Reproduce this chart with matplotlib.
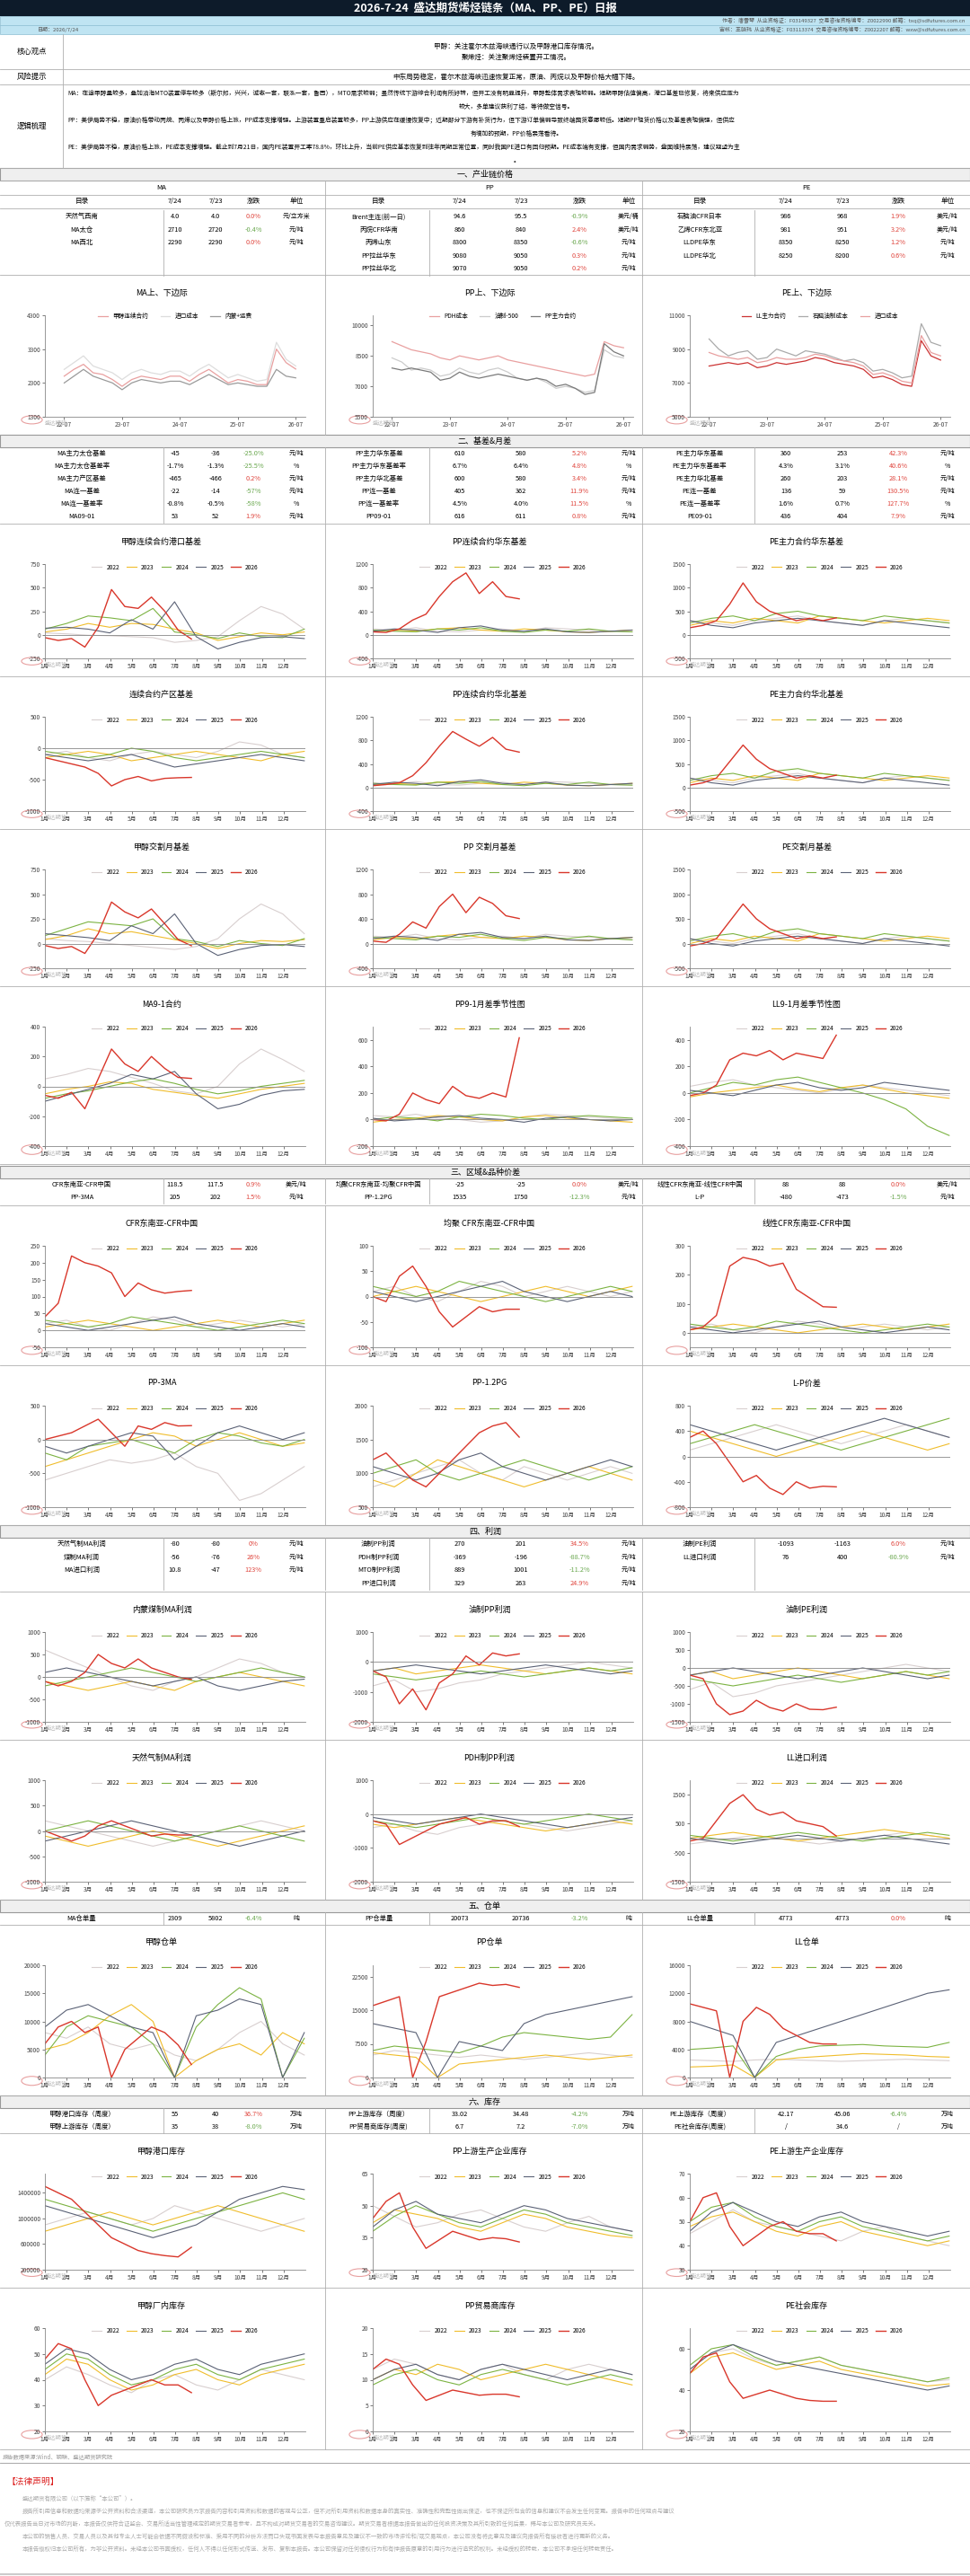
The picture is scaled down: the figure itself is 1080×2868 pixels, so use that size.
import numpy as np
import matplotlib
matplotlib.use("Agg")
import matplotlib.pyplot as plt
from matplotlib.patches import Rectangle, Circle

plt.rcParams["font.family"] = ["Noto Sans CJK SC", "DejaVu Sans"]
plt.rcParams["axes.unicode_minus"] = False

# ---------------- data ----------------
YEARS = ["2022", "2023", "2024", "2025", "2026"]
YEAR_COLORS = ["#d8cfcf", "#f0bd2c", "#7cb342", "#5b6276", "#d9372b"]
MONTHS = [f"{m}月" for m in range(1, 13)]

TITLE = "2026-7-24  盛达期货烯烃链条（MA、PP、PE）日报"
AUTHOR = "作者：唐雪琴  从业资格证：F03149327  交易咨询资格编号：Z0022990 邮箱：txq@sdfutures.com.cn"
REVIEWER = "审核：王晓玮  从业资格证：F03113374  交易咨询资格编号：Z0022207 邮箱：wxw@sdfutures.com.cn"
DATE = "日期：2026/7/24"
CORE_VIEW = ["甲醇：关注霍尔木兹海峡通行以及甲醇港口库存情况。", "聚烯烃：关注聚烯烃装置开工情况。"]
RISK = "中东局势稳定，霍尔木兹海峡迅速恢复正常，原油、丙烷以及甲醇价格大幅下降。"
LOGIC = [
    "MA：在途甲醇量较多，叠加沿海MTO装置停车较多（斯尔邦，兴兴，诚志一套，联泓一套，鲁西），MTO需求较弱；虽然传统下游综合利润有所好转，但开工没有明显提升，甲醇整体需求表现较弱。短期甲醇估值偏高，港口基差已修复，将来供应压力",
    "较大，多单建议获利了结，等待做空信号。",
    "PP：美伊局势不稳，原油价格带动丙烷、丙烯以及甲醇价格上涨，PP成本支撑增强。上游装置重启装置较多，PP上游供应在缓慢恢复中；近期部分下游有补货行为，但下游订单偏弱导致终端囤货意愿较低。短期PP现货价格以及基差表现偏强，但供应",
    "有增加的预期，PP价格震荡看待。",
    "PE：美伊局势不稳，原油价格上涨，PE成本支撑增强。截止到7月21日，国内PE装置开工率78.8%，环比上升，当前PE供应基本恢复到往年同期正常位置，同时我国PE进口有回归预期。PE成本端有支撑，但国内需求弱势，盘面维持震荡，建议观望为主",
    "。",
]

# tables: (name, 7/24, 7/23, change, unit)
T1_MA = [("天然气西南", "4.0", "4.0", "0.0%", "元/立方米"), ("MA太仓", "2710", "2720", "-0.4%", "元/吨"),
         ("MA西北", "2290", "2290", "0.0%", "元/吨")]
T1_PP = [("Brent主连(前一日)", "94.6", "95.5", "-0.9%", "美元/桶"), ("丙烷CFR华南", "860", "840", "2.4%", "美元/吨"),
         ("丙烯山东", "8300", "8350", "-0.6%", "元/吨"), ("PP拉丝华东", "9080", "9050", "0.3%", "元/吨"),
         ("PP拉丝华北", "9070", "9050", "0.2%", "元/吨")]
T1_PE = [("石脑油CFR日本", "986", "968", "1.9%", "美元/吨"), ("乙烯CFR东北亚", "981", "951", "3.2%", "美元/吨"),
         ("LLDPE华东", "8350", "8250", "1.2%", "元/吨"), ("LLDPE华北", "8250", "8200", "0.6%", "元/吨")]
T2_MA = [("MA主力太仓基差", "-45", "-36", "-25.0%", "元/吨"), ("MA主力太仓基差率", "-1.7%", "-1.3%", "-25.5%", "%"),
         ("MA主力产区基差", "-465", "-466", "0.2%", "元/吨"), ("MA连一基差", "-22", "-14", "-57%", "元/吨"),
         ("MA连一基差率", "-0.8%", "-0.5%", "-58%", "%"), ("MA09-01", "53", "52", "1.9%", "元/吨")]
T2_PP = [("PP主力华东基差", "610", "580", "5.2%", "元/吨"), ("PP主力华东基差率", "6.7%", "6.4%", "4.8%", "%"),
         ("PP主力华北基差", "600", "580", "3.4%", "元/吨"), ("PP连一基差", "405", "362", "11.9%", "元/吨"),
         ("PP连一基差率", "4.5%", "4.0%", "11.5%", "%"), ("PP09-01", "616", "611", "0.8%", "元/吨")]
T2_PE = [("PE主力华东基差", "360", "253", "42.3%", "元/吨"), ("PE主力华东基差率", "4.3%", "3.1%", "40.6%", "%"),
         ("PE主力华北基差", "260", "203", "28.1%", "元/吨"), ("PE连一基差", "136", "59", "130.5%", "元/吨"),
         ("PE连一基差率", "1.6%", "0.7%", "127.7%", "%"), ("PE09-01", "436", "404", "7.9%", "元/吨")]
T3_MA = [("CFR东南亚-CFR中国", "118.5", "117.5", "0.9%", "美元/吨"), ("PP-3MA", "205", "202", "1.5%", "元/吨")]
T3_PP = [("均聚CFR东南亚-均聚CFR中国", "-25", "-25", "0.0%", "美元/吨"), ("PP-1.2PG", "1535", "1750", "-12.3%", "元/吨")]
T3_PE = [("线性CFR东南亚-线性CFR中国", "88", "88", "0.0%", "美元/吨"), ("L-P", "-480", "-473", "-1.5%", "元/吨")]
T4_MA = [("天然气制MA利润", "-80", "-80", "0%", "元/吨"), ("煤制MA利润", "-56", "-76", "26%", "元/吨"),
         ("MA进口利润", "10.8", "-47", "123%", "元/吨")]
T4_PP = [("油制PP利润", "270", "201", "34.5%", "元/吨"), ("PDH制PP利润", "-369", "-196", "-88.7%", "元/吨"),
         ("MTO制PP利润", "889", "1001", "-11.2%", "元/吨"), ("PP进口利润", "329", "263", "24.9%", "元/吨")]
T4_PE = [("油制PE利润", "-1093", "-1163", "6.0%", "元/吨"), ("LL进口利润", "76", "400", "-80.9%", "元/吨")]
T5_MA = [("MA仓单量", "2309", "5802", "-6.4%", "吨")]
T5_PP = [("PP仓单量", "20073", "20736", "-3.2%", "吨")]
T5_PE = [("LL仓单量", "4773", "4773", "0.0%", "吨")]
T6_MA = [("甲醇港口库存（周度）", "55", "40", "36.7%", "万吨"), ("甲醇上游库存（周度）", "35", "38", "-8.0%", "万吨")]
T6_PP = [("PP上游库存（周度）", "33.02", "34.48", "-4.2%", "万吨"), ("PP贸易商库存(周度)", "6.7", "7.2", "-7.0%", "万吨")]
T6_PE = [("PE上游库存（周度）", "42.17", "45.06", "-6.4%", "万吨"), ("PE社会库存(周度)", "/", "34.6", "/", "万吨")]

# margin time series, bimonthly 22-07 .. 26-07
TS_TICKS = ["22-07", "23-07", "24-07", "25-07", "26-07"]
MA_EDGE = {
    "甲醇连续合约": [2500, 2700, 2850, 2600, 2550, 2400, 2200, 2400, 2500, 2450, 2400, 2500, 2500,
                 2350, 2550, 2700, 2500, 2300, 2400, 2350, 2250, 2250, 3300, 2900, 2710],
    "进口成本": [2700, 2900, 3100, 2800, 2700, 2600, 2400, 2600, 2700, 2600, 2550, 2650, 2650,
             2500, 2700, 2850, 2650, 2450, 2550, 2450, 2350, 2400, 3500, 3000, 2800],
    "内蒙+运费": [2300, 2500, 2700, 2500, 2400, 2300, 2100, 2300, 2400, 2350, 2300, 2350, 2350,
              2250, 2400, 2550, 2400, 2250, 2300, 2250, 2200, 2200, 2700, 2500, 2450],
}
PP_EDGE = {
    "PDH成本": [9200, 9000, 8800, 8700, 8600, 8400, 8300, 8500, 8400, 8300, 8400, 8500, 8300,
              8200, 8100, 8000, 7900, 7800, 7700, 7600, 7500, 7600, 9200, 9000, 8900],
    "油制-500": [8400, 8200, 7800, 7900, 7800, 7500, 7600, 7900, 7700, 7600, 7800, 7900, 7700,
               7400, 7300, 7400, 7200, 6900, 7000, 6900, 6700, 6800, 8800, 8500, 8400],
    "PP主力合约": [7900, 7800, 7900, 7800, 7700, 7300, 7400, 7700, 7500, 7400, 7500, 7600, 7500,
               7400, 7300, 7400, 7300, 7000, 7100, 6900, 6600, 6700, 9100, 8700, 8500],
}
PE_EDGE = {
    "LL主力合约": [8000, 8100, 8200, 8100, 8200, 7900, 8000, 8200, 8100, 8200, 8300, 8500, 8400,
               8200, 8100, 8000, 7800, 7300, 7400, 7200, 6900, 6800, 9500, 8600, 8350],
    "石脑油制成本": [9600, 9000, 8600, 8800, 8900, 8400, 8500, 9000, 8800, 8600, 8900, 8800, 8700,
                8500, 8300, 8400, 8200, 7700, 7800, 7600, 7300, 7400, 10500, 9400, 9200],
    "进口成本": [8800, 8600, 8500, 8400, 8500, 8200, 8300, 8500, 8400, 8400, 8500, 8700, 8600,
             8400, 8300, 8200, 8000, 7500, 7600, 7400, 7100, 7000, 9800, 8800, 8600],
}

# seasonal series: 2022-2025 (Jan..Dec, 13 pts), 2026 (Jan..late Jul, 12 pts)
MA_PORT_BASIS = [[20, 10, -5, -10, -20, -30, -80, -60, -20, 150, 300, 220, 60],
                 [30, 60, 120, 80, 120, 110, 60, 20, -60, -20, 20, 0, 30],
                 [60, 120, 200, 180, 150, 280, 30, 0, -40, 20, -20, -30, 60],
                 [70, 80, 60, 20, 160, 60, 350, -20, -150, -80, -30, -20, -40],
                 [-30, -60, -40, -130, 80, 480, 300, 280, 400, 250, 50, -45]]
PP_EAST_BASIS = [[100, 80, 120, 60, 50, 80, 100, 60, 120, 100, 80, 60, 50],
                 [50, 80, 60, 100, 120, 80, 60, 100, 80, 50, 40, 60, 80],
                 [80, 60, 50, 100, 80, 120, 60, 40, 80, 60, 100, 60, 50],
                 [60, 100, 80, 40, 120, 150, 80, 60, 100, 50, 40, 60, 80],
                 [50, 40, 100, 250, 350, 650, 900, 1050, 700, 900, 650, 610]]
PE_EAST_BASIS = [[300, 250, 200, 300, 350, 400, 300, 250, 200, 300, 350, 300, 250],
                 [200, 300, 250, 350, 300, 250, 400, 350, 300, 250, 300, 350, 300],
                 [250, 350, 400, 300, 450, 500, 400, 350, 300, 400, 350, 300, 250],
                 [300, 200, 150, 250, 300, 350, 300, 250, 200, 300, 250, 200, 150],
                 [150, 200, 300, 650, 1100, 700, 500, 400, 300, 350, 300, 360]]
MA_INLAND_BASIS = [[-100, -50, -150, -200, -100, -50, -100, -150, -50, 100, 50, -100, -150],
                   [-150, -100, -50, -100, -200, -150, -100, -50, -100, -150, -200, -100, -50],
                   [-50, -100, -150, -100, 0, -50, -150, -200, -150, -100, -50, -100, -150],
                   [-100, -150, -200, -150, -100, -200, -300, -250, -200, -150, -100, -150, -200],
                   [-150, -200, -250, -300, -400, -600, -500, -450, -520, -480, -470, -465]]
PP_NORTH_BASIS = [[80, 60, 100, 50, 40, 70, 90, 50, 100, 90, 70, 50, 40],
                  [40, 70, 50, 90, 100, 70, 50, 90, 70, 40, 30, 50, 70],
                  [70, 50, 40, 90, 70, 100, 50, 30, 70, 50, 90, 50, 40],
                  [50, 90, 70, 30, 100, 130, 70, 50, 90, 40, 30, 50, 70],
                  [30, 50, 80, 200, 420, 700, 950, 820, 700, 850, 650, 600]]
PE_NORTH_BASIS = [[200, 150, 100, 200, 250, 300, 200, 150, 100, 200, 250, 200, 150],
                  [100, 200, 150, 250, 200, 150, 300, 250, 200, 150, 200, 250, 200],
                  [150, 250, 300, 200, 350, 400, 300, 250, 200, 300, 250, 200, 150],
                  [200, 100, 50, 150, 200, 250, 200, 150, 100, 200, 150, 100, 50],
                  [50, 100, 200, 550, 900, 600, 400, 300, 200, 250, 200, 260]]
MA_DELIV_BASIS = [[50, 30, 20, 0, -20, -40, -60, -30, 50, 250, 400, 300, 100],
                  [40, 80, 150, 100, 120, 80, 40, 0, -50, 0, 30, 20, 40],
                  [80, 150, 220, 200, 180, 250, 50, 20, -30, 30, 0, -20, 50],
                  [100, 80, 60, 30, 180, 100, 300, 0, -120, -60, -20, -10, -30],
                  [-20, -50, -30, -100, 100, 420, 320, 260, 350, 200, 40, -22]]
PP_DELIV_BASIS = [[120, 100, 150, 80, 60, 100, 120, 80, 150, 120, 100, 80, 60],
                  [60, 100, 80, 120, 150, 100, 80, 120, 100, 60, 50, 80, 100],
                  [100, 80, 60, 120, 100, 150, 80, 50, 100, 80, 120, 80, 60],
                  [80, 120, 100, 50, 150, 180, 100, 80, 120, 60, 50, 80, 100],
                  [40, 20, 150, 350, 250, 600, 800, 500, 750, 650, 450, 405]]
PE_DELIV_BASIS = [[100, 50, 0, 100, 150, 200, 100, 50, 0, 100, 150, 100, 50],
                  [0, 100, 50, 150, 100, 50, 200, 150, 100, 50, 100, 150, 100],
                  [50, 150, 200, 100, 250, 300, 200, 150, 100, 200, 150, 100, 50],
                  [100, 0, -50, 50, 100, 150, 100, 50, 0, 100, 50, 0, -50],
                  [-50, 0, 100, 450, 800, 500, 300, 200, 100, 150, 100, 136]]
MA_SPREAD_91 = [[50, 80, 120, 100, 60, 20, -30, -50, 0, 150, 250, 180, 100],
                [-50, -20, 0, 30, 20, -20, -40, -60, -80, -50, -20, 0, 20],
                [-80, -50, -30, 0, 30, 50, 20, -20, -50, -30, 0, 20, 40],
                [-100, -60, -20, 20, 80, 50, 100, -50, -150, -120, -60, -30, -20],
                [-60, -80, -40, -150, 50, 250, 150, 100, 200, 120, 60, 53]]
PP_SPREAD_91 = [[30, 20, 40, 10, 0, -20, -10, 20, 40, 30, 20, 10, 0],
                [-20, 0, 10, 30, 20, 0, -10, 20, 30, 10, 0, -10, -20],
                [0, 20, 10, -10, 20, 40, 30, 10, 0, 20, 30, 20, 10],
                [10, -10, 0, 20, 30, 10, 0, -20, 10, 20, 0, -10, 0],
                [0, -10, 40, 200, 150, 120, 250, 180, 160, 200, 170, 616]]
LL_SPREAD_91 = [[50, 80, 100, 60, 40, 20, 0, 30, 60, 40, 20, 0, -20],
                [-30, 0, 20, 40, 60, 30, 10, 40, 60, 30, 0, -20, -40],
                [0, 40, 80, 60, 100, 120, 80, 40, 0, -50, -120, -250, -320],
                [20, 0, -20, 20, 60, 80, 40, 20, 40, 80, 60, 40, 20],
                [-20, 0, 60, 250, 300, 280, 320, 250, 300, 280, 260, 436]]
MA_CFR_SPREAD = [[20, 30, 10, 0, 20, 40, 30, 10, 20, 30, 20, 10, 20],
                 [10, 20, 30, 20, 10, 0, 10, 20, 30, 20, 10, 20, 30],
                 [30, 20, 10, 20, 40, 30, 20, 10, 0, 10, 20, 30, 20],
                 [20, 10, 0, 10, 20, 30, 40, 20, 10, 0, 10, 20, 10],
                 [40, 80, 220, 200, 190, 170, 100, 140, 120, 110, 115, 118]]
PP_CFR_SPREAD = [[10, 20, 0, -10, 10, 30, 20, 0, 10, 20, 10, 0, 10],
                 [0, 10, 20, 10, 0, -10, 0, 10, 20, 10, 0, 10, 20],
                 [20, 10, 0, 10, 30, 20, 10, 0, -10, 0, 10, 20, 10],
                 [10, 0, -10, 0, 10, 20, 30, 10, 0, -10, 0, 10, 0],
                 [0, -10, 40, 60, 20, -30, -60, -40, -20, -30, -25, -25]]
PE_CFR_SPREAD = [[20, 30, 10, 0, 20, 40, 30, 10, 20, 30, 20, 10, 20],
                 [10, 20, 30, 20, 10, 0, 10, 20, 30, 20, 10, 20, 30],
                 [30, 20, 10, 20, 40, 30, 20, 10, 0, 10, 20, 30, 20],
                 [20, 10, 0, 10, 20, 30, 40, 20, 10, 0, 10, 20, 10],
                 [10, 20, 60, 230, 260, 250, 230, 240, 150, 120, 90, 88]]
PP_3MA = [[-600, -500, -400, -300, -350, -300, -200, -400, -500, -900, -800, -600, -400],
          [-400, -300, -200, -100, 0, 100, 50, -100, 0, 100, 0, -100, -50],
          [-200, -300, -100, -50, 0, -100, -200, 0, 100, 50, -50, -100, 0],
          [-100, -200, -100, 0, 100, 50, -300, -100, 100, 200, 100, 0, 100],
          [0, 50, 100, 200, 300, 100, -100, 200, 150, 250, 200, 205]]
PP_12PG = [[800, 900, 1000, 1100, 1200, 1000, 900, 1100, 1000, 900, 1000, 1100, 1000],
           [900, 800, 1000, 1200, 1100, 1000, 900, 800, 900, 1000, 1100, 1000, 900],
           [1000, 1100, 1200, 1000, 900, 1000, 1100, 1200, 1100, 1000, 900, 1000, 1100],
           [1100, 1000, 900, 1000, 1200, 1300, 1100, 1000, 900, 1000, 1100, 1200, 1100],
           [1200, 1300, 1100, 900, 800, 1000, 1200, 1400, 1600, 1700, 1750, 1535]]
L_P_SPREAD = [[100, 200, 300, 400, 500, 400, 300, 200, 300, 400, 500, 400, 300],
              [400, 300, 200, 100, 0, 100, 200, 300, 400, 300, 200, 100, 200],
              [200, 300, 400, 500, 400, 300, 200, 100, 200, 300, 400, 500, 600],
              [500, 400, 300, 200, 100, 200, 300, 400, 500, 600, 500, 400, 300],
              [300, 400, 200, -100, -400, -300, -500, -600, -400, -500, -470, -480]]
MA_COAL_PROFIT = [[600, 400, 200, 0, -200, -300, -100, 0, 200, 400, 300, 100, 0],
                  [-100, -200, -300, -200, -100, -200, -300, -100, 0, 100, 0, -100, -200],
                  [-200, -100, 0, 100, 200, 100, 0, -100, 0, 100, 200, 100, 0],
                  [100, 200, 100, 0, -100, -200, -100, 0, -200, -300, -200, -100, -50],
                  [-100, -200, -100, 100, 500, 300, 200, 400, 200, 100, 0, -56]]
PP_OIL_PROFIT = [[-800, -600, -1000, -900, -700, -600, -400, -300, -200, -100, 0, -100, -200],
                 [-300, -200, -400, -300, -200, -100, -200, -300, -400, -300, -200, -300, -400],
                 [-400, -500, -600, -500, -400, -300, -400, -500, -400, -300, -200, -300, -200],
                 [-300, -200, -100, -200, -300, -400, -300, -200, -100, -200, -300, -400, -300],
                 [-300, -500, -1400, -900, -1600, -700, -400, 200, -100, 300, 201, 270]]
PE_OIL_PROFIT = [[-600, -400, -800, -700, -500, -400, -300, -200, -100, 0, 100, 0, -100],
                 [-200, -100, -300, -200, -100, 0, -100, -200, -300, -200, -100, -200, -300],
                 [-300, -400, -500, -400, -300, -200, -300, -400, -300, -200, -100, -200, -100],
                 [-200, -100, 0, -100, -200, -300, -200, -100, 0, -100, -200, -300, -200],
                 [-200, -300, -1000, -1300, -1200, -900, -1100, -1200, -1000, -1150, -1163, -1093]]
MA_GAS_PROFIT = [[200, 100, 0, -100, -200, -300, -200, -100, 0, 100, 200, 100, 0],
                 [-100, -200, -300, -200, -100, 0, -100, -200, -300, -200, -100, 0, 100],
                 [0, 100, 200, 100, 0, -100, -200, -100, 0, 100, 0, -100, -200],
                 [-200, -100, 0, 100, 200, 100, 0, -100, -200, -300, -200, -100, 0],
                 [0, -100, -200, -100, 100, 200, 100, 0, -100, -60, -80, -80]]
PP_PDH_PROFIT = [[-400, -300, -500, -600, -400, -300, -200, -300, -400, -500, -400, -300, -200],
                 [-300, -400, -300, -200, -100, -200, -300, -400, -500, -400, -300, -200, -300],
                 [-200, -300, -400, -300, -200, -100, -200, -300, -200, -100, 0, -100, -200],
                 [-100, -200, -300, -200, -100, 0, -100, -200, -300, -400, -300, -200, -100],
                 [-200, -300, -900, -700, -500, -300, -200, -100, -300, -200, -196, -369]]
LL_IMPORT_PROFIT = [[-200, -100, 0, 100, 0, -100, -200, -100, 0, 100, 200, 100, 0],
                    [0, 100, 200, 100, 0, -100, 0, 100, 200, 300, 200, 100, 0],
                    [100, 0, -100, 0, 100, 200, 100, 0, -100, 0, 100, 200, 100],
                    [0, -100, -200, -100, 0, 100, 0, -100, 0, 100, 0, -100, -200],
                    [-100, 0, 600, 1200, 1500, 1000, 800, 900, 600, 500, 400, 76]]
MA_WARRANT = [[8000, 7000, 9000, 6000, 5000, 6000, 4000, 3000, 5000, 8000, 10000, 6000, 4000],
              [5000, 6000, 8000, 11000, 13000, 10000, 0, 3000, 5000, 6000, 4000, 8000, 6000],
              [4000, 9000, 11000, 10000, 9000, 6000, 0, 9000, 13000, 16000, 14000, 0, 7000],
              [9000, 12000, 13000, 11000, 9000, 8000, 0, 11000, 12000, 14000, 13000, 0, 8000],
              [6000, 9000, 10000, 8000, 9000, 0, 5000, 7000, 9000, 8000, 5802, 2309]]
PP_WARRANT = [[5000, 6000, 5500, 5000, 4500, 5000, 4500, 4000, 4500, 5000, 5500, 5000, 4500],
              [5500, 5000, 4500, 0, 3000, 3500, 4000, 4500, 5000, 4500, 4000, 4500, 5000],
              [6000, 7000, 6500, 6000, 5500, 7000, 9000, 10000, 9500, 9000, 8500, 9000, 14000],
              [12000, 11000, 10000, 0, 8000, 7000, 6000, 12000, 14000, 15000, 16000, 17000, 18000],
              [16000, 17000, 18000, 0, 8000, 18000, 19000, 20000, 21000, 20500, 20736, 20073]]
LL_WARRANT = [[2500, 2400, 2300, 2500, 2600, 2500, 2400, 2300, 2400, 2500, 2600, 2500, 2400],
              [1500, 1600, 1800, 0, 2500, 2800, 3000, 3200, 3400, 3300, 3200, 3000, 2900],
              [4000, 4200, 4500, 0, 3000, 4000, 4500, 4600, 4700, 4500, 4400, 4300, 5000],
              [8000, 7000, 6000, 0, 5000, 6000, 7000, 8000, 9000, 10000, 11000, 12000, 12500],
              [10500, 10000, 9500, 0, 8000, 10000, 9000, 7000, 6000, 5000, 4773, 4773]]
MA_PORT_STOCK = [[900000, 1000000, 1100000, 1000000, 900000, 1000000, 1200000, 1100000, 1000000, 900000, 800000, 900000, 1000000],
                 [800000, 900000, 1000000, 1100000, 1000000, 900000, 1000000, 1100000, 1200000, 1100000, 1000000, 900000, 800000],
                 [1300000, 1200000, 1100000, 1000000, 900000, 800000, 900000, 1000000, 1100000, 1200000, 1300000, 1400000, 1300000],
                 [1200000, 1100000, 1000000, 900000, 800000, 700000, 800000, 900000, 1100000, 1300000, 1400000, 1500000, 1450000],
                 [1500000, 1400000, 1300000, 1100000, 900000, 700000, 600000, 500000, 450000, 420000, 400000, 550000]]
PP_UP_STOCK = [[50, 45, 40, 42, 46, 48, 44, 40, 38, 42, 45, 40, 38],
               [42, 48, 46, 44, 40, 38, 42, 46, 44, 40, 38, 36, 35],
               [38, 45, 50, 46, 42, 40, 44, 48, 46, 42, 40, 38, 36],
               [40, 48, 52, 46, 44, 42, 46, 50, 48, 44, 42, 40, 38],
               [44, 52, 56, 40, 30, 34, 38, 36, 34, 35, 34.5, 33]]
PE_UP_STOCK = [[45, 50, 55, 50, 48, 46, 44, 42, 46, 48, 44, 42, 40],
               [48, 52, 54, 50, 46, 44, 48, 50, 46, 44, 42, 40, 42],
               [50, 56, 58, 52, 48, 46, 50, 52, 48, 46, 44, 42, 44],
               [46, 54, 58, 54, 50, 48, 52, 54, 50, 48, 46, 44, 46],
               [50, 60, 62, 48, 40, 44, 48, 50, 46, 45, 45, 42]]
MA_PLANT_STOCK = [[40, 45, 42, 38, 35, 40, 42, 38, 36, 40, 44, 42, 40],
                  [42, 48, 46, 40, 36, 38, 42, 44, 40, 38, 42, 44, 46],
                  [44, 50, 48, 42, 38, 40, 44, 46, 42, 40, 44, 46, 48],
                  [46, 52, 50, 44, 40, 42, 46, 48, 44, 42, 46, 48, 50],
                  [48, 54, 52, 40, 30, 34, 36, 38, 40, 38, 38, 35]]
PP_TRADER_STOCK = [[12, 14, 13, 11, 10, 12, 13, 11, 10, 12, 13, 12, 11],
                   [10, 12, 11, 13, 12, 10, 11, 12, 13, 12, 11, 10, 9],
                   [9, 11, 12, 10, 9, 11, 12, 11, 10, 9, 10, 11, 10],
                   [10, 12, 13, 11, 10, 12, 13, 12, 11, 10, 11, 12, 11],
                   [12, 14, 13, 9, 6, 7, 8, 7.5, 7, 7.2, 7.2, 6.7]]
PE_SOCIAL_STOCK = [[50, 58, 60, 55, 52, 54, 56, 52, 50, 48, 46, 44, 45],
                   [48, 56, 58, 54, 50, 52, 54, 50, 48, 46, 44, 42, 43],
                   [52, 60, 62, 56, 52, 54, 56, 52, 50, 48, 46, 44, 46],
                   [50, 58, 62, 58, 54, 52, 50, 48, 46, 44, 42, 40, 42],
                   [48, 56, 58, 44, 36, 38, 40, 38, 36, 35, 34.6, 34.6]]

LEGAL = [
    "盛达期货有限公司（以下简称“本公司”）。",
    "报告所引用信息和数据均来源于公开资料和合法渠道，本公司研究员力求报告内容和引用资料和数据的客观与公正，但不对所引用资料和数据本身的真实性、准确性和完整性做出保证，也不保证所包含的信息和建议不会发生任何变更。报告中的任何观点与建议",
    "仅代表报告当日对市场的判断，本报告仅供符合证监会、交易所适当性管理规定的期货交易者参考，且不构成对期货交易者的交易咨询建议。期货交易者根据本报告做出的任何投资决策及其所引致的任何后果，概与本公司及研究员无关。",
    "本公司的销售人员、交易人员以及其他专业人士可能会依据不同假设和标准、采用不同的分析方法而口头或书面发表与本报告意见及建议不一致的市场评论和/或交易观点，本公司没有将此意见及建议向报告所有接收者进行更新的义务。",
    "本报告版权归本公司所有，为非公开资料。未经本公司书面授权，任何人不得以任何形式传送、发布、复制本报告。本公司保留对任何侵权行为和有悖报告原意的引用行为进行追究的权利。未经授权的转载，本公司不承担任何转载责任。",
]

# ---------------- drawing ----------------
W, H = 1080, 2868
fig = plt.figure(figsize=(W / 100, H / 100), dpi=100)
bg = fig.add_axes([0, 0, 1, 1])
bg.set_xlim(0, W)
bg.set_ylim(H, 0)
bg.axis("off")

GRID = "#b0b0b0"
RED, GREEN = "#e0473f", "#6aa84f"


def hline(y, x0=0, x1=W, c=GRID, lw=0.6):
    bg.plot([x0, x1], [y, y], color=c, lw=lw)


def vline(x, y0, y1, c=GRID, lw=0.6):
    bg.plot([x, x], [y0, y1], color=c, lw=lw)


def section(y, text):
    bg.add_patch(Rectangle((0, y), W, 14, fc="#efefef", ec="#999999", lw=0.8))
    bg.text(W / 2, y + 7, text, ha="center", va="center", fontsize=6.5)


def table(y0, groups, row_h=14.5, header=False):
    cols = [(0, 182, 195, 240, 282, 330), (365, 478, 512, 580, 645, 700), (718, 840, 875, 938, 1000, 1055)]
    nrows = max(len(g) for g in groups)
    y = y0
    if header:
        for (x0, xn, a, b, c, d), lab in zip(cols, ["MA", "PP", "PE"]):
            bg.text(x0 + 180, y + 7, lab, ha="center", va="center", fontsize=5.5)
        hline(y + 15)
        y += 15
        for (x0, xn, a, b, c, d) in cols:
            bg.text((x0 + xn) / 2, y + 7, "目录", ha="center", va="center", fontsize=5.5)
            for xx, s in zip((a, b, c, d), ("7/24", "7/23", "涨跌", "单位")):
                bg.text(xx, y + 7, s, ha="center", va="center", fontsize=5.5)
        hline(y + 15)
        y += 17
    for g, (x0, xn, a, b, c, d) in zip(groups, cols):
        for i, (name, v1, v2, ch, unit) in enumerate(g):
            yy = y + row_h * i + row_h / 2
            bg.text((x0 + xn) / 2, yy, name, ha="center", va="center", fontsize=5.3)
            bg.text(a, yy, v1, ha="center", va="center", fontsize=5.3)
            bg.text(b, yy, v2, ha="center", va="center", fontsize=5.3)
            col = GREEN if ch.startswith("-") else (RED if ch != "/" else "#333")
            bg.text(c, yy, ch, ha="center", va="center", fontsize=5.3, color=col)
            bg.text(d, yy, unit, ha="center", va="center", fontsize=5.0)
        vline(xn, y0 + (32 if header else 0), y + row_h * nrows)
    for x in (365, 718):
        vline(x - 3, y0, y + row_h * nrows)
    return y + row_h * nrows


def logo(ax):
    ax.text(0.0, -0.02, "盛达期货", transform=ax.transAxes, fontsize=4.5, color="#bbbbbb",
            ha="left", va="top")
    ax.add_patch(Circle((-0.05, -0.03), 0.04, transform=ax.transAxes, fill=False,
                        ec="#e8a0a0", lw=0.8, clip_on=False))


def panel_axes(x0, y0, h, title):
    bg.text(x0 + 180, y0 + 20, title, ha="center", va="center", fontsize=6.5)
    left, right = x0 + 50, x0 + 340
    top, bottom = y0 + 45, y0 + h - 20
    ax = fig.add_axes([left / W, 1 - bottom / H, (right - left) / W, (bottom - top) / H])
    for s in ("top", "right"):
        ax.spines[s].set_visible(False)
    ax.spines["left"].set_color("#888")
    ax.spines["bottom"].set_color("#888")
    ax.spines["left"].set_linewidth(0.6)
    ax.spines["bottom"].set_linewidth(0.6)
    ax.tick_params(labelsize=4.8, length=2, width=0.5, colors="#444", pad=1.5)
    ax.ticklabel_format(axis="y", style="plain", useOffset=False)
    return ax


def seasonal(x0, y0, h, title, data, ylim, yticks):
    ax = panel_axes(x0, y0, h, title)
    for vals, yr, col in zip(data, YEARS, YEAR_COLORS):
        end = 7.75 if yr == "2026" else 12.95
        xs = np.linspace(1, end, len(vals))
        ax.plot(xs, vals, color=col, lw=1.0 if yr == "2026" else 0.8, label=yr)
    ax.set_xlim(1, 13)
    ax.set_ylim(*ylim)
    ax.set_yticks(yticks)
    ax.set_xticks(range(1, 13))
    ax.set_xticklabels(MONTHS)
    if ylim[0] < 0 < ylim[1]:
        ax.axhline(0, color="#888", lw=0.6)
    ax.legend(loc="upper center", ncol=5, fontsize=4.8, frameon=False, handlelength=1.6,
              columnspacing=1.2, bbox_to_anchor=(0.5, 1.06))
    logo(ax)


def timeseries(x0, y0, h, title, series, colors, ylim, yticks):
    ax = panel_axes(x0, y0, h, title)
    for (name, vals), col in zip(series.items(), colors):
        ax.plot(np.linspace(0, 48, len(vals)), vals, color=col, lw=0.9, label=name)
    ax.set_xlim(-4, 50)
    ax.set_xticks([0, 12, 24, 36, 48])
    ax.set_xticklabels(TS_TICKS)
    ax.set_ylim(*ylim)
    ax.set_yticks(yticks)
    ax.legend(loc="upper center", ncol=3, fontsize=4.8, frameon=False, handlelength=1.6,
              bbox_to_anchor=(0.5, 1.08))
    logo(ax)


def chart_row(y0, h, specs):
    for x0, spec in zip((0, 365, 718), specs):
        seasonal(x0, y0, h, *spec)
    for x in (362, 715):
        vline(x, y0, y0 + h)
    hline(y0 + h)


# header
bg.add_patch(Rectangle((0, 0), W, 18, fc="#0d1b2a", ec="none"))
bg.text(W / 2, 9, TITLE, ha="center", va="center", fontsize=9, color="white", weight="bold")
bg.add_patch(Rectangle((0, 18), W, 20, fc="#bfe4f2", ec="#8bbcd0", lw=0.5))
hline(27.5, c="#8bbcd0", lw=0.5)
bg.text(1075, 23, AUTHOR, ha="right", va="center", fontsize=4.3, color="#555")
bg.text(1075, 32.5, REVIEWER, ha="right", va="center", fontsize=4.3, color="#555")
bg.text(42, 32.5, DATE, ha="left", va="center", fontsize=4.3, color="#555")

# text block
hline(77)
hline(94)
hline(187)
vline(70, 38, 187)
bg.text(35, 57, "核心观点", ha="center", va="center", fontsize=6)
bg.text(35, 85.5, "风险提示", ha="center", va="center", fontsize=6)
bg.text(35, 140, "逻辑梳理", ha="center", va="center", fontsize=6)
bg.text(575, 52, CORE_VIEW[0], ha="center", va="center", fontsize=5.5)
bg.text(575, 64, CORE_VIEW[1], ha="center", va="center", fontsize=5.5)
bg.text(575, 85.5, RISK, ha="center", va="center", fontsize=5.5)
for i, line in enumerate(LOGIC):
    x = 75 if i % 2 == 0 else 575
    bg.text(x, 104 + i * 15, line, ha="left" if i % 2 == 0 else "center", va="center", fontsize=4.9)

# section 1
section(187, "一、产业链价格")
hline(201)
y = table(202, [T1_MA, T1_PP, T1_PE], row_h=14.5, header=True)
hline(306)
timeseries(0, 306, 178, "MA上、下边际", MA_EDGE, ["#e9a0a0", "#dddddd", "#9a9a9a"],
           (1300, 4300), [1300, 2300, 3300, 4300])
timeseries(365, 306, 178, "PP上、下边际", PP_EDGE, ["#e9a0a0", "#cccccc", "#7a7a7a"],
           (5500, 10500), [5500, 7000, 8500, 10000])
timeseries(718, 306, 178, "PE上、下边际", PE_EDGE, ["#cc3333", "#aaaaaa", "#e8a0a0"],
           (5000, 11000), [5000, 7000, 9000, 11000])
for x in (362, 715):
    vline(x, 306, 484)

# section 2
section(484, "二、基差&月差")
table(498, [T2_MA, T2_PP, T2_PE], row_h=14)
hline(583)
chart_row(583, 170, [
    ("甲醇连续合约港口基差", MA_PORT_BASIS, (-250, 750), [-250, 0, 250, 500, 750]),
    ("PP连续合约华东基差", PP_EAST_BASIS, (-400, 1200), [-400, 0, 400, 800, 1200]),
    ("PE主力合约华东基差", PE_EAST_BASIS, (-500, 1500), [-500, 0, 500, 1000, 1500])])
chart_row(753, 170, [
    ("连续合约产区基差", MA_INLAND_BASIS, (-1000, 500), [-1000, -500, 0, 500]),
    ("PP连续合约华北基差", PP_NORTH_BASIS, (-400, 1200), [-400, 0, 400, 800, 1200]),
    ("PE主力合约华北基差", PE_NORTH_BASIS, (-500, 1500), [-500, 0, 500, 1000, 1500])])
chart_row(923, 175, [
    ("甲醇交割月基差", MA_DELIV_BASIS, (-250, 750), [-250, 0, 250, 500, 750]),
    ("PP 交割月基差", PP_DELIV_BASIS, (-400, 1200), [-400, 0, 400, 800, 1200]),
    ("PE交割月基差", PE_DELIV_BASIS, (-500, 1500), [-500, 0, 500, 1000, 1500])])
chart_row(1098, 198, [
    ("MA9-1合约", MA_SPREAD_91, (-400, 400), [-400, -200, 0, 200, 400]),
    ("PP9-1月差季节性图", PP_SPREAD_91, (-200, 700), [-200, 0, 200, 400, 600]),
    ("LL9-1月差季节性图", LL_SPREAD_91, (-400, 500), [-400, -200, 0, 200, 400])])

# section 3
section(1298, "三、区域&品种价差")
table(1312, [T3_MA, T3_PP, T3_PE], row_h=14)
hline(1342)
chart_row(1342, 178, [
    ("CFR东南亚-CFR中国", MA_CFR_SPREAD, (-50, 250), [-50, 0, 50, 100, 150, 200, 250]),
    ("均聚 CFR东南亚-CFR中国", PP_CFR_SPREAD, (-100, 100), [-100, -50, 0, 50, 100]),
    ("线性CFR东南亚-CFR中国", PE_CFR_SPREAD, (-50, 300), [0, 100, 200, 300])])
chart_row(1520, 178, [
    ("PP-3MA", PP_3MA, (-1000, 500), [-1000, -500, 0, 500]),
    ("PP-1.2PG", PP_12PG, (500, 2000), [500, 1000, 1500, 2000]),
    ("L-P价差", L_P_SPREAD, (-800, 800), [-800, -400, 0, 400, 800])])

# section 4
section(1698, "四、利润")
table(1712, [T4_MA, T4_PP, T4_PE], row_h=14.5)
hline(1772)
chart_row(1772, 165, [
    ("内蒙煤制MA利润", MA_COAL_PROFIT, (-1000, 1000), [-1000, -500, 0, 500, 1000]),
    ("油制PP利润", PP_OIL_PROFIT, (-2000, 1000), [-2000, -1000, 0, 1000]),
    ("油制PE利润", PE_OIL_PROFIT, (-1500, 1000), [-1500, -1000, -500, 0, 500, 1000])])
chart_row(1937, 178, [
    ("天然气制MA利润", MA_GAS_PROFIT, (-1000, 1000), [-1000, -500, 0, 500, 1000]),
    ("PDH制PP利润", PP_PDH_PROFIT, (-2000, 1000), [-2000, -1000, 0, 1000]),
    ("LL进口利润", LL_IMPORT_PROFIT, (-1500, 2000), [-1500, -500, 500, 1500])])

# section 5
section(2115, "五、仓单")
table(2129, [T5_MA, T5_PP, T5_PE], row_h=14)
hline(2143)
chart_row(2143, 190, [
    ("甲醇仓单", MA_WARRANT, (0, 20000), [0, 5000, 10000, 15000, 20000]),
    ("PP仓单", PP_WARRANT, (0, 25000), [0, 7500, 15000, 22500]),
    ("LL仓单", LL_WARRANT, (0, 16000), [0, 4000, 8000, 12000, 16000])])

# section 6
section(2333, "六、库存")
table(2347, [T6_MA, T6_PP, T6_PE], row_h=14)
hline(2375)
chart_row(2375, 172, [
    ("甲醇港口库存", MA_PORT_STOCK, (200000, 1700000), [200000, 600000, 1000000, 1400000]),
    ("PP上游生产企业库存", PP_UP_STOCK, (20, 65), [20, 35, 50, 65]),
    ("PE上游生产企业库存", PE_UP_STOCK, (30, 70), [30, 40, 50, 60, 70])])
chart_row(2547, 180, [
    ("甲醇厂内库存", MA_PLANT_STOCK, (20, 60), [20, 30, 40, 50, 60]),
    ("PP贸易商库存", PP_TRADER_STOCK, (0, 20), [0, 5, 10, 15, 20]),
    ("PE社会库存", PE_SOCIAL_STOCK, (20, 70), [20, 40, 60])])

bg.text(3, 2735, "报告数据来源:Wind、钢联、盛达期货研究院", fontsize=4.5, color="#999", style="italic", va="center")
hline(2742, c="#999")
bg.text(8, 2763, "【法律声明】", fontsize=7, color="#d22", va="center")
for i, line in enumerate(LEGAL):
    indent = 25 if i != 2 else 5
    bg.text(indent, 2782 + i * 14, line, fontsize=4.6, color="#aaa", va="center")
hline(2866, c="#ccc", lw=1.5)

fig.savefig("out.png", dpi=100)
